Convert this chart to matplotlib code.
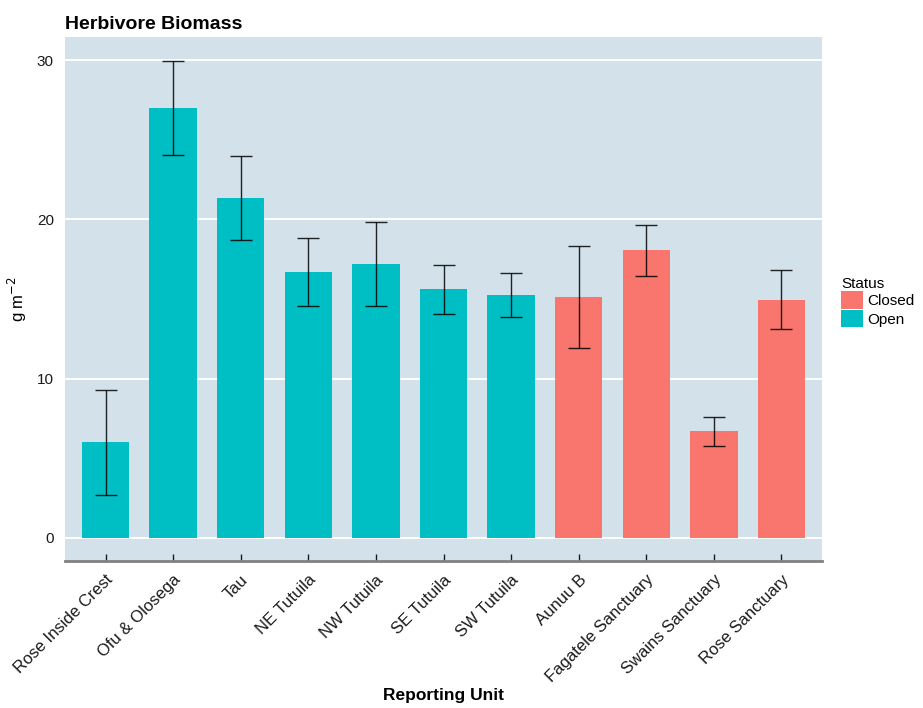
import numpy as np
import matplotlib
matplotlib.use('Agg')
import matplotlib.pyplot as plt
from matplotlib.patches import Patch

plt.rcParams['font.family'] = ['Liberation Sans', 'DejaVu Sans']

units = ['Rose Inside Crest', 'Ofu & Olosega', 'Tau', 'NE Tutuila', 'NW Tutuila',
         'SE Tutuila', 'SW Tutuila', 'Aunuu B', 'Fagatele Sanctuary',
         'Swains Sanctuary', 'Rose Sanctuary']
biomass = [6.0, 27.0, 21.35, 16.7, 17.2, 15.6, 15.25, 15.1, 18.05, 6.7, 14.95]
se = [3.3, 2.95, 2.65, 2.15, 2.65, 1.55, 1.4, 3.2, 1.6, 0.9, 1.85]
status = ['Open'] * 7 + ['Closed'] * 4

colours = {'Closed': '#F8766D', 'Open': '#00BFC4'}
panel_bg = '#D3E2EA'

fig = plt.figure(figsize=(9.23, 7.08), dpi=100)
ax = fig.add_axes([0.0704, 0.2076, 0.8202, 0.7401])
ax.set_facecolor(panel_bg)

x = np.arange(1, len(units) + 1)
ax.bar(x, biomass, 0.7, color=[colours[s] for s in status], zorder=2)
ax.errorbar(x, biomass, yerr=se, fmt='none', ecolor='black', elinewidth=1,
            capsize=8, capthick=1, alpha=0.85, zorder=3)

ax.set_xlim(0.4, len(units) + 0.6)
ax.set_ylim(-1.45, 31.45)
ax.set_yticks([0, 10, 20, 30])
ax.yaxis.grid(True, color='white', linewidth=1.4, zorder=1)
ax.set_axisbelow(True)

for side in ['top', 'right', 'left']:
    ax.spines[side].set_visible(False)
ax.spines['bottom'].set_color('#808080')
ax.spines['bottom'].set_linewidth(2)

ax.set_xticks(x)
ax.set_xticklabels(units, rotation=45, ha='right', va='top',
                   rotation_mode='anchor', fontsize=12, color='#1a1a1a')
ax.tick_params(axis='x', direction='in', length=5, width=1, color='#1a1a1a', pad=8)
ax.tick_params(axis='y', length=0, labelsize=11, pad=8, labelcolor='#1a1a1a')

ax.set_xlabel('Reporting Unit', fontsize=12.5, fontweight='bold', labelpad=2)
ax.set_ylabel('g m$^{-2}$', fontsize=12, labelpad=6)
ax.set_title('Herbivore Biomass', loc='left', fontsize=14, fontweight='bold', pad=6)

handles = [Patch(facecolor=colours['Closed'], label='Closed'),
           Patch(facecolor=colours['Open'], label='Open')]
leg = fig.legend(handles=handles, title='Status', loc='upper left',
                 bbox_to_anchor=(0.905, 0.618), frameon=False, fontsize=11,
                 title_fontsize=11, handlelength=1.4, handleheight=1.4,
                 handletextpad=0.3, labelspacing=0.05, borderaxespad=0)
leg._legend_box.align = 'left'

fig.savefig('out.png', dpi=100)
